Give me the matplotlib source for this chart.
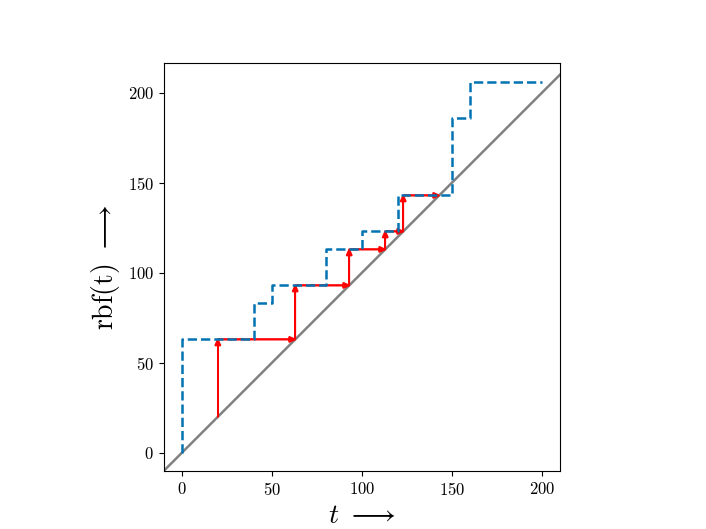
import numpy as np
import matplotlib
matplotlib.use("Agg")
import matplotlib.pyplot as plt

plt.rcParams["font.family"] = "serif"
plt.rcParams["font.serif"] = ["cmr10"]
plt.rcParams["mathtext.fontset"] = "cm"
plt.rcParams["axes.formatter.use_mathtext"] = True

# request bound function: step values
t_steps = [0, 0, 40, 50, 80, 100, 120, 150, 160, 200]
rbf_vals = [0, 63, 83, 93, 113, 123, 143, 186, 206, 206]

# fixed-point iteration t -> rbf(t), starting at t = 20
iter_t = [20, 63, 93, 113, 123, 143]
iter_rbf = [63, 93, 113, 123, 143]

fig = plt.figure(figsize=(7.06, 5.29), dpi=100)
ax = fig.add_subplot(111)

ax.plot([-10, 210], [-10, 210], color="gray", lw=1.8, zorder=2)

# red staircase of arrows
hw = 3.0
hl = 3.4
for i, r in enumerate(iter_rbf):
    t = iter_t[i]
    ax.arrow(t, t, 0, r - t, color="red", lw=1.2, head_width=hw, head_length=hl,
             length_includes_head=True, zorder=3)
    ax.arrow(t, r, iter_t[i + 1] - t, 0, color="red", lw=1.2, head_width=hw,
             head_length=hl, length_includes_head=True, zorder=3)

ax.step(t_steps, rbf_vals, where="post", color="#0173b2", ls="--", lw=1.8, zorder=4)

ax.set_xlim(-10, 210)
ax.set_ylim(-10, 216.3)
ax.set_aspect("equal")
ax.set_xticks([0, 50, 100, 150, 200])
ax.set_yticks([0, 50, 100, 150, 200])
ax.tick_params(labelsize=12)
ax.set_xlabel(r"$t\ \longrightarrow$", fontsize=20)
ax.set_ylabel(r"rbf(t) $\longrightarrow$", fontsize=20)

plt.savefig("out.png", dpi=100)
